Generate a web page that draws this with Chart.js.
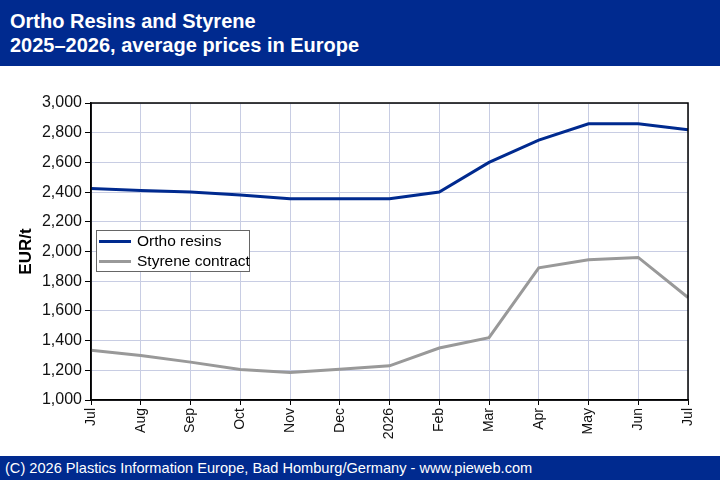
<!DOCTYPE html>
<html>
<head>
<meta charset="utf-8">
<script src="https://cdn.jsdelivr.net/npm/chart.js@4.4.1/dist/chart.umd.min.js"></script>
<style>
  html, body { margin:0; padding:0; background:#fff; }
  #wrap { position:relative; width:720px; height:480px; overflow:hidden; font-family:"Liberation Sans", Arial, sans-serif; }
  #header { position:absolute; left:0; top:0; width:720px; height:66px; background:#002a8f; color:#fff; font-weight:bold; font-size:20px; line-height:24px; }
  #header div { position:absolute; left:10px; white-space:nowrap; }
  #footer { position:absolute; left:0; top:456px; width:720px; height:24px; background:#002a8f; color:#fff; font-size:14.6px; line-height:24px; padding-left:5px; box-sizing:border-box; white-space:nowrap; }
  #chart { position:absolute; left:0; top:0; }
  #legend { position:absolute; left:96px; top:230px; width:152px; height:40px; border:1px solid #666; background:#fff; font-size:15.5px; }
  .row { position:absolute; left:0; height:20px; line-height:20px; }
  .swatch { position:absolute; left:2px; top:9px; width:32px; height:3px; }
  .lbl { position:absolute; left:40px; top:0; white-space:nowrap; color:#000; }
</style>
</head>
<body>
<div id="wrap">
  <canvas id="chart" width="720" height="480"></canvas>
  <div id="header"><div style="top:9px">Ortho Resins and Styrene</div><div style="top:33px">2025–2026, average prices in Europe</div></div>
  <div id="legend"></div>
  <div id="footer">(C) 2026 Plastics Information Europe, Bad Homburg/Germany - www.pieweb.com</div>
</div>
<script>
const categories = ["Jul","Aug","Sep","Oct","Nov","Dec","2026","Feb","Mar","Apr","May","Jun","Jul"];
const orthoResins = [2425, 2410, 2400, 2380, 2355, 2355, 2355, 2400, 2600, 2750, 2860, 2860, 2820];
const styreneContract = [1335, 1300, 1255, 1205, 1185, 1207, 1230, 1350, 1420, 1890, 1945, 1960, 1690];
const seriesNames = ["Ortho resins", "Styrene contract"];
const seriesColors = ["#002a8f", "#999999"];
const yMin = 1000, yMax = 3000, yStep = 200;
const yTitle = "EUR/t";

const frame = {
  id: 'frame',
  afterDraw(chart) {
    const a = chart.chartArea, c = chart.ctx;
    c.save();
    c.strokeStyle = '#000';
    c.lineWidth = 1.5;
    c.strokeRect(a.left, a.top, a.right - a.left, a.bottom - a.top);
    c.restore();
  }
};

const chart = new Chart(document.getElementById('chart'), {
  type: 'line',
  data: {
    labels: categories,
    datasets: [
      { label: seriesNames[0], data: orthoResins, borderColor: seriesColors[0], backgroundColor: seriesColors[0], borderWidth: 3, pointRadius: 0, tension: 0, fill: false },
      { label: seriesNames[1], data: styreneContract, borderColor: seriesColors[1], backgroundColor: seriesColors[1], borderWidth: 3, pointRadius: 0, tension: 0, fill: false }
    ]
  },
  options: {
    responsive: false,
    animation: false,
    devicePixelRatio: 1,
    layout: { padding: { top: 103, right: 32, bottom: 24, left: 0 } },
    plugins: { legend: { display: false }, tooltip: { enabled: false } },
    scales: {
      x: {
        offset: false,
        grid: { color: '#c8cde3', tickColor: '#000', tickLength: 5, lineWidth: 1 },
        border: { color: '#000', width: 1.5 },
        ticks: { autoSkip: false, maxRotation: 90, minRotation: 90, color: '#111', padding: 3, font: { family: '"Liberation Sans", Arial', size: 14 } },
        afterFit(s) { s.height = 56; }
      },
      y: {
        min: yMin, max: yMax,
        grid: { color: '#c8cde3', tickColor: '#000', tickLength: 6, lineWidth: 1 },
        border: { color: '#000', width: 1.5 },
        ticks: { stepSize: yStep, color: '#111', padding: 3, font: { family: '"Liberation Sans", Arial', size: 16 },
          callback: v => v.toLocaleString('en-US') },
        title: { display: true, text: yTitle, color: '#000', font: { family: '"Liberation Sans", Arial', size: 17, weight: 'bold' }, padding: { top: 16, bottom: 0 } },
        afterFit(s) { s.width = 91; }
      }
    }
  },
  plugins: [frame]
});

const lg = document.getElementById('legend');
seriesNames.forEach((n, i) => {
  const r = document.createElement('div');
  r.className = 'row';
  r.style.top = (i * 20) + 'px';
  r.innerHTML = '<div class="swatch" style="background:' + seriesColors[i] + '"></div><div class="lbl">' + n + '</div>';
  lg.appendChild(r);
});
</script>
</body>
</html>
